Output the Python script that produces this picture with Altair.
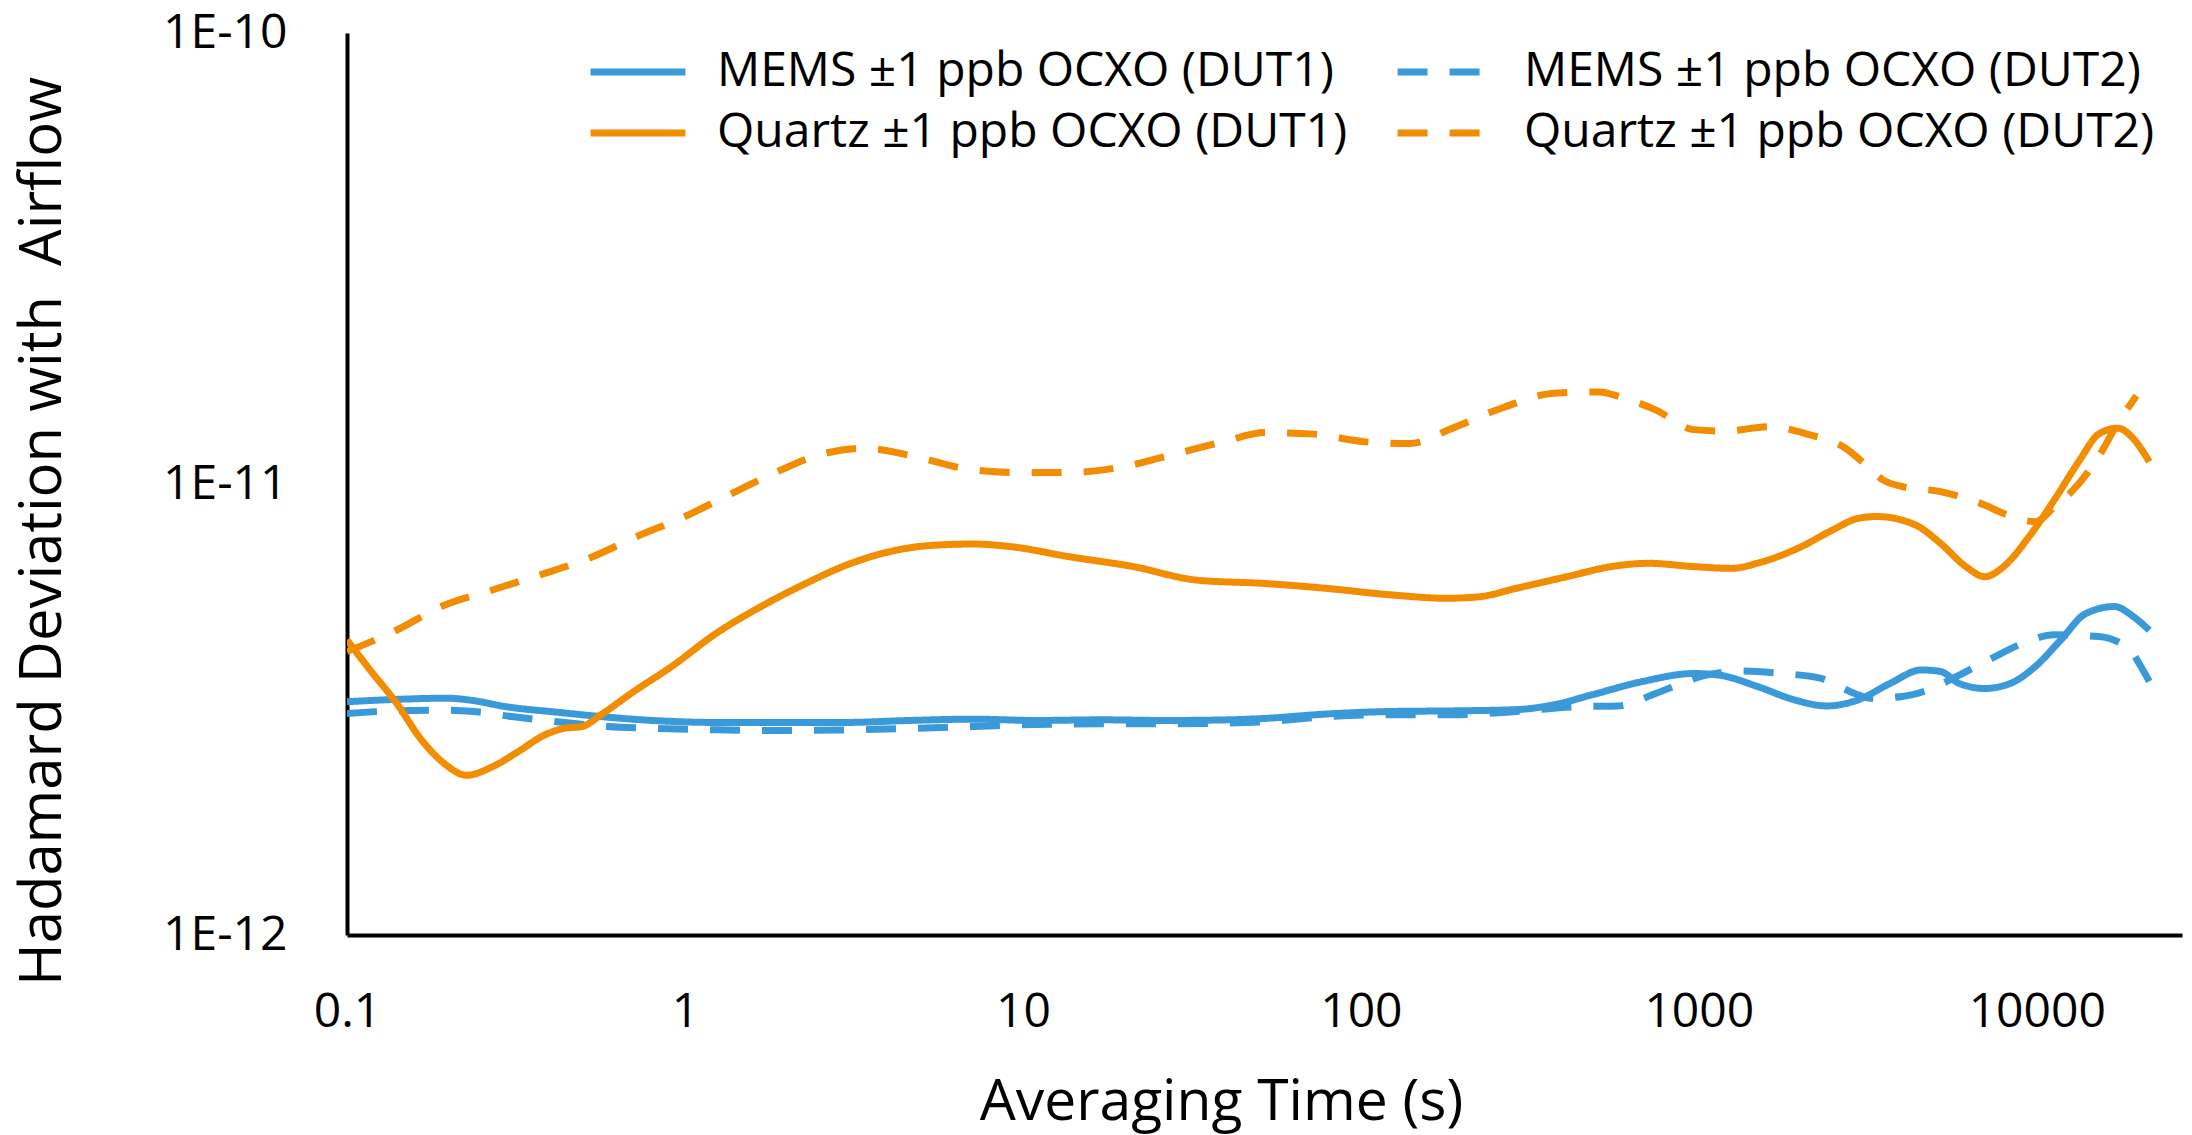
import altair as alt
import pandas as pd

# ---- data ----
# legend order (Vega fills the 2-column legend column by column)
series_names = [
    "MEMS ±1 ppb OCXO (DUT1)",
    "Quartz ±1 ppb OCXO (DUT1)",
    "MEMS ±1 ppb OCXO (DUT2)",
    "Quartz ±1 ppb OCXO (DUT2)",
]

mems1_tau = [0.1, 0.14, 0.198, 0.236, 0.294, 0.417, 0.565, 0.802, 1.24, 1.92, 2.97, 4.6, 7.11, 11.0, 17.1,
             26.4, 40.8, 51.4, 79.1, 122, 187, 288, 373, 484, 684, 964, 1146, 1486, 1923, 2388, 2958, 3673,
             4560, 5188, 5902, 7015, 8337, 9908, 11780, 13960, 16980, 19320, 21530]
mems1_dev = [3.29e-12, 3.33e-12, 3.35e-12, 3.31e-12, 3.21e-12, 3.12e-12, 3.05e-12, 2.99e-12, 2.96e-12,
             2.96e-12, 2.96e-12, 2.99e-12, 3.01e-12, 2.99e-12, 3.00e-12, 2.99e-12, 3.00e-12, 3.02e-12,
             3.09e-12, 3.13e-12, 3.14e-12, 3.16e-12, 3.24e-12, 3.41e-12, 3.65e-12, 3.80e-12, 3.77e-12,
             3.56e-12, 3.32e-12, 3.22e-12, 3.32e-12, 3.61e-12, 3.87e-12, 3.84e-12, 3.61e-12, 3.52e-12,
             3.61e-12, 3.94e-12, 4.51e-12, 5.16e-12, 5.35e-12, 5.08e-12, 4.74e-12]

mems2_tau = [0.1, 0.14, 0.198, 0.236, 0.307, 0.417, 0.59, 0.838, 1.24, 1.92, 2.97, 4.6, 7.11, 11.0, 17.1,
             26.4, 51.4, 79.1, 122, 187, 288, 444, 575, 745, 885, 1052, 1361, 1766, 2286, 2958, 3228, 4000,
             4753, 5902, 7328, 9078, 11270, 15240, 17340, 18920, 20610, 21530]
mems2_dev = [3.10e-12, 3.14e-12, 3.15e-12, 3.13e-12, 3.05e-12, 2.97e-12, 2.90e-12, 2.87e-12, 2.85e-12,
             2.84e-12, 2.85e-12, 2.87e-12, 2.90e-12, 2.93e-12, 2.94e-12, 2.94e-12, 2.97e-12, 3.05e-12,
             3.08e-12, 3.08e-12, 3.13e-12, 3.21e-12, 3.22e-12, 3.43e-12, 3.61e-12, 3.77e-12, 3.85e-12,
             3.80e-12, 3.71e-12, 3.41e-12, 3.35e-12, 3.38e-12, 3.49e-12, 3.77e-12, 4.10e-12, 4.43e-12,
             4.63e-12, 4.59e-12, 4.47e-12, 4.28e-12, 3.87e-12, 3.65e-12]

quartz1_tau = [0.1, 0.117, 0.14, 0.166, 0.194, 0.226, 0.269, 0.321, 0.382, 0.436, 0.497, 0.565, 0.703,
               0.914, 1.24, 1.68, 2.29, 3.1, 4.04, 5.25, 7.11, 9.25, 13.7, 21.2, 32.8, 51.4, 79.1, 122, 179,
               223, 288, 407, 551, 713, 964, 1250, 1486, 2009, 2489, 2958, 3365, 4365, 5188, 6166, 7015,
               7980, 9484, 11270, 13400, 15240, 17340, 19320, 21530]
quartz1_dev = [4.51e-12, 3.87e-12, 3.27e-12, 2.71e-12, 2.40e-12, 2.26e-12, 2.36e-12, 2.55e-12, 2.77e-12,
               2.87e-12, 2.90e-12, 3.08e-12, 3.46e-12, 3.94e-12, 4.67e-12, 5.35e-12, 6.03e-12, 6.67e-12,
               7.08e-12, 7.30e-12, 7.36e-12, 7.26e-12, 6.90e-12, 6.56e-12, 6.12e-12, 6.02e-12, 5.87e-12,
               5.68e-12, 5.58e-12, 5.62e-12, 5.87e-12, 6.23e-12, 6.56e-12, 6.67e-12, 6.56e-12, 6.50e-12,
               6.67e-12, 7.26e-12, 7.91e-12, 8.39e-12, 8.47e-12, 8.12e-12, 7.39e-12, 6.56e-12, 6.23e-12,
               6.56e-12, 7.64e-12, 9.22e-12, 1.13e-11, 1.29e-11, 1.33e-11, 1.26e-11, 1.12e-11]

quartz2_tau = [0.1, 0.14, 0.19, 0.269, 0.373, 0.519, 0.718, 1.0, 1.32, 1.8, 2.49, 3.39, 4.81, 6.82, 9.66,
               13.7, 19.5, 27.5, 39.1, 52, 72.6, 103, 139, 187, 265, 373, 506, 600, 745, 964, 1197, 1618,
               2094, 2716, 3090, 3516, 4000, 5188, 7015, 7980, 9908, 11270, 12820, 15240, 17340, 19720]
quartz2_dev = [4.25e-12, 4.74e-12, 5.35e-12, 5.82e-12, 6.29e-12, 6.84e-12, 7.64e-12, 8.47e-12, 9.38e-12,
               1.05e-11, 1.16e-11, 1.20e-11, 1.15e-11, 1.08e-11, 1.06e-11, 1.06e-11, 1.09e-11, 1.16e-11,
               1.24e-11, 1.30e-11, 1.29e-11, 1.24e-11, 1.23e-11, 1.33e-11, 1.48e-11, 1.59e-11, 1.60e-11,
               1.55e-11, 1.46e-11, 1.32e-11, 1.31e-11, 1.34e-11, 1.29e-11, 1.20e-11, 1.11e-11, 1.02e-11,
               9.87e-12, 9.62e-12, 8.98e-12, 8.60e-12, 8.25e-12, 8.90e-12, 9.70e-12, 1.15e-11, 1.36e-11,
               1.57e-11]

x_ticks = [0.1, 1, 10, 100, 1000, 10000]
y_ticks = [1e-12, 1e-11, 1e-10]

BLUE = "#3A9AD9"
ORANGE = "#F28C00"
colors = [BLUE, ORANGE, BLUE, ORANGE]
dashes = [[1, 0], [1, 0], [30, 22], [30, 22]]

# ---- build long table ----
series_data = {
    "MEMS ±1 ppb OCXO (DUT1)": (mems1_tau, mems1_dev),
    "MEMS ±1 ppb OCXO (DUT2)": (mems2_tau, mems2_dev),
    "Quartz ±1 ppb OCXO (DUT1)": (quartz1_tau, quartz1_dev),
    "Quartz ±1 ppb OCXO (DUT2)": (quartz2_tau, quartz2_dev),
}
rows = []
for name, (taus, devs) in series_data.items():
    for t, d in zip(taus, devs):
        rows.append({"series": name, "tau": t, "dev": d})
df = pd.DataFrame(rows)

FONT = "Open Sans"

legend = alt.Legend(
    title=None, orient="none", legendX=240, legendY=15, columns=2,
    symbolType="stroke", symbolSize=9000, symbolStrokeWidth=7,
    labelFontSize=48, labelFont=FONT, labelColor="#000000", labelOffset=28,
    clipHeight=48, rowPadding=13, columnPadding=46, padding=0, labelLimit=1000,
)

chart = alt.Chart(df).mark_line(strokeWidth=7, interpolate="monotone", clip=True, strokeCap="butt").encode(
    x=alt.X("tau:Q",
            scale=alt.Scale(type="log", domain=[0.1, 26900], nice=False),
            axis=alt.Axis(values=x_ticks, format="~g", title="Averaging Time (s)",
                          grid=False, ticks=False, tickSize=0,
                          labelFontSize=48, labelFont=FONT, labelColor="#000000",
                          labelBaseline="alphabetic", labelPadding=91, labelFlush=False,
                          domainColor="#000000", domainWidth=4,
                          titleFontSize=57, titleFont=FONT, titleFontWeight="normal",
                          titleColor="#000000", titleX=874, titleY=184,
                          titleBaseline="alphabetic", titleAlign="center")),
    y=alt.Y("dev:Q",
            scale=alt.Scale(type="log", domain=[1e-12, 1e-10], nice=False),
            axis=alt.Axis(values=y_ticks, labelExpr="'1E' + round(log(datum.value)/LN10)",
                          title="Hadamard Deviation with \u00a0Airflow",
                          grid=False, ticks=False, tickSize=0,
                          labelFontSize=48, labelFont=FONT, labelColor="#000000",
                          labelPadding=60, labelFlush=False,
                          domainColor="#000000", domainWidth=4,
                          titleFontSize=58, titleFont=FONT, titleFontWeight="normal",
                          titleColor="#000000", titleX=-287, titleY=498,
                          titleBaseline="alphabetic", titleAlign="center", titleAngle=270)),
    color=alt.Color("series:N", scale=alt.Scale(domain=series_names, range=colors), legend=legend),
    strokeDash=alt.StrokeDash("series:N", scale=alt.Scale(domain=series_names, range=dashes), legend=legend),
).properties(
    width=1835, height=902,
    autosize=alt.AutoSizeParams(type="none"),
    padding={"left": 347, "top": 33, "right": 10, "bottom": 200},
    background="white",
).configure_view(stroke=None)

chart.save("out.html", embed_options={"renderer": "svg", "actions": False})
